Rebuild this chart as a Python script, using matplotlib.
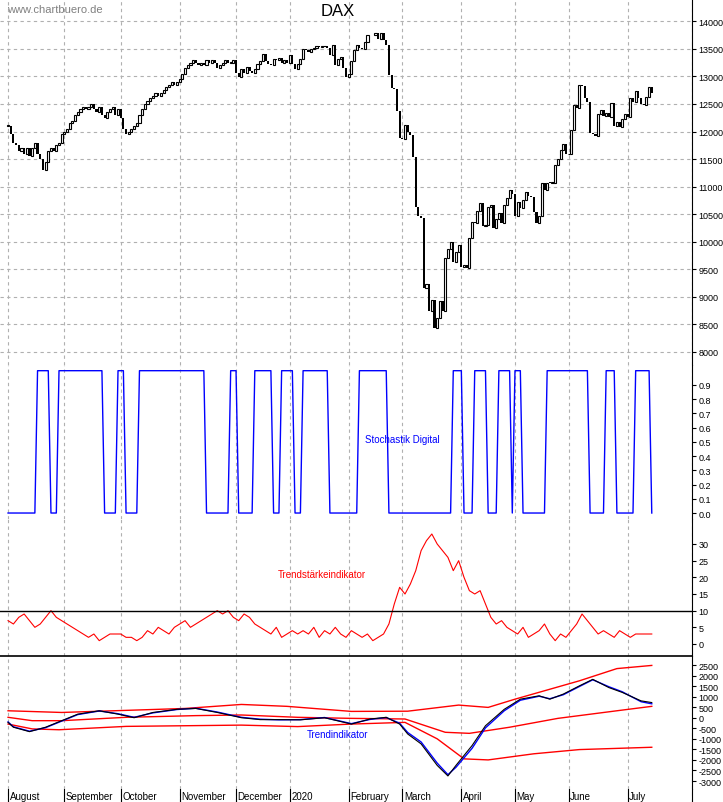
import numpy as np
import matplotlib.pyplot as plt

plt.rcParams['font.family'] = ['Liberation Sans Narrow', 'Liberation Sans', 'DejaVu Sans']
plt.rcParams['axes.unicode_minus'] = False

# DAX daily closes, one list per month (Aug 2019 - Jul 2020)
aug = [12100, 11950, 11800, 11750, 11650, 11700, 11600, 11700, 11550, 11700, 11800,
       11600, 11500, 11300, 11450, 11650, 11700, 11650, 11750, 11800, 11950]
sep = [12000, 12050, 12150, 12200, 12300, 12350, 12400, 12450, 12400, 12450, 12500,
       12400, 12350, 12450, 12300, 12250, 12350, 12400, 12450, 12300, 12400]
okt = [12250, 12050, 11950, 12000, 12050, 12100, 12150, 12300, 12400, 12500, 12550,
       12600, 12650, 12700, 12650, 12700, 12750, 12800, 12850, 12900, 12850, 12900]
nov = [12950, 13050, 13150, 13200, 13250, 13300, 13250, 13200, 13250, 13200, 13300,
       13250, 13300, 13250, 13150, 13200, 13250, 13300, 13250, 13250, 13300]
dez = [13065, 12989, 13140, 13055, 13166, 13105, 13071, 13141, 13221, 13283, 13408,
       13287, 13222, 13212, 13319, 13300, 13337, 13249, 13300, 13250]
jan = [13385, 13219, 13127, 13227, 13320, 13495, 13483, 13450, 13500, 13520, 13550,
       13526, 13548, 13555, 13515, 13388, 13577, 13204, 13324, 13345, 13157, 12982]
feb = [13045, 13281, 13478, 13575, 13513, 13494, 13627, 13749, 13745, 13744, 13783,
       13681, 13789, 13664, 13579, 13035, 12790, 12775, 12367, 11890]
mar = [11857, 12127, 11986, 11944, 11541, 10625, 10475, 10438, 9161, 9232, 8742,
       8939, 8442, 8610, 8929, 8741, 9701, 9874, 10000, 9633, 9815, 9936]
apr = [9544, 9571, 9525, 10075, 10356, 10333, 10564, 10697, 10280, 10301, 10626,
       10676, 10250, 10415, 10514, 10336, 10659, 10796, 10945, 10862]
mai = [10467, 10730, 10606, 10760, 10904, 10825, 10820, 10542, 10338, 10465, 11058,
       10939, 11075, 11066, 11074, 11391, 11505, 11657, 11781, 11587]
jun = [11587, 12021, 12487, 12431, 12848, 12820, 12617, 12530, 11970, 11949, 11911,
       12316, 12382, 12281, 12331, 12263, 12524, 12093, 12178, 12089, 12232, 12311]
jul = [12261, 12608, 12528, 12734, 12616, 12495, 12489, 12633, 12800, 12697]
months = [aug, sep, okt, nov, dez, jan, feb, mar, apr, mai, jun, jul]
month_labels = ['August', 'September', 'October', 'November', 'December', '2020',
                'February', 'March', 'April', 'May', 'June', 'July']

# Stochastik Digital: day ranges where the signal is high
stoch_high = [(11, 15), (19, 35), (41, 43), (49, 73), (83, 85), (92, 98), (102, 106),
              (110, 119), (131, 141), (166, 169), (174, 178), (183, 187), (189, 191),
              (201, 216), (223, 226), (234, 239)]

# Trendstaerkeindikator (every 2nd trading day)
ts_vals = [7, 6, 8, 9, 7, 5, 6, 8, 10, 8, 7, 6, 5,
           4, 3, 2, 3, 1, 2, 3, 3, 3, 2, 2, 1,
           2, 4, 3, 5, 4, 3, 5, 6, 7, 5, 6,
           7, 8, 9, 10, 9, 10, 8, 7, 9, 8,
           6, 5, 4, 3, 5, 2, 3, 4, 3,
           4, 3, 5, 2, 4, 3, 5, 3,
           2, 4, 3, 2, 3, 1, 2, 3, 6, 12, 17,
           15, 18, 22, 28, 31, 33, 30, 28, 26, 22, 25,
           20, 16, 15, 16, 12, 8, 6, 7, 5,
           4, 3, 5, 2, 3, 4, 6, 3, 1, 3, 2,
           4, 6, 9, 7, 5, 3, 4, 3, 2, 4,
           3, 2, 3, 3, 3, 3]

# Trendindikator
tr_days = [0, 2, 8, 14, 20, 26, 34, 41, 47, 54, 63, 70, 78, 87, 94, 101, 109, 118, 128,
           135, 141, 146, 149, 154, 160, 164, 167, 173, 178, 185, 191, 198, 202, 207,
           213, 218, 224, 229, 236, 240]
tr_black = [-220, -450, -660, -450, -140, 170, 330, 170, 0, 250, 400, 440, 250, 0, -90,
            -90, -100, 0, -300, -60, 20, -300, -770, -1240, -2260, -2760, -2260, -1320,
            -380, 400, 880, 1040, 880, 1120, 1510, 1820, 1430, 1200, 800, 720]
tr_blue = [-200, -430, -640, -470, -160, 150, 320, 190, 20, 230, 390, 450, 270, 20, -70,
           -100, -90, 10, -280, -80, 10, -260, -700, -1150, -2150, -2700, -2350, -1450,
           -480, 330, 830, 1020, 900, 1090, 1480, 1800, 1470, 1230, 760, 660]
up_days = [0, 20, 66, 87, 104, 128, 149, 168, 179, 189, 213, 227, 240]
up_vals = [330, 250, 440, 630, 540, 300, 310, 600, 490, 880, 1750, 2330, 2480]
mid_days = [0, 9, 20, 44, 70, 87, 108, 128, 148, 163, 172, 187, 205, 227, 240]
mid_vals = [20, -140, -140, 20, 100, 130, 20, -30, -60, -690, -740, -450, -30, 330, 540]
lo_days = [0, 9, 19, 44, 87, 108, 128, 148, 160, 170, 179, 196, 213, 240]
lo_vals = [-300, -530, -570, -410, -350, -420, -300, -220, -1000, -1950, -2000, -1710,
           -1510, -1400]

closes = np.array([c for m in months for c in m], dtype=float)
opens = np.concatenate([[closes[0]], closes[:-1]])
days = np.arange(len(closes))
month_start = np.cumsum([0] + [len(m) for m in months[:-1]])

W, H = 723, 803
fig = plt.figure(figsize=(W / 100, H / 100), dpi=100)
L, R = 0.0, 692 / W


def panel(top, bottom):
    return fig.add_axes([L, 1 - bottom / H, R - L, (bottom - top) / H])


ax1 = panel(0, 366)
ax2 = panel(366, 520)
ax3 = panel(520, 657)
ax4 = panel(657, 790)
ax5 = panel(790, 803)
XL = (-3, 255)

for ax in (ax1, ax2, ax3, ax4, ax5):
    ax.set_xlim(XL)
    ax.yaxis.tick_right()
    ax.tick_params(axis='y', labelsize=6.5, length=3, pad=1.5)
    ax.set_xticks([])
    for s in ('left', 'top', 'bottom'):
        ax.spines[s].set_visible(False)
    for d in month_start:
        ax.axvline(d, color='#b0b0b0', ls=(0, (3, 3)), lw=0.8, zorder=0)
    ax.axvline(XL[1], color='#b0b0b0', ls=(0, (3, 3)), lw=0.8, zorder=0)

# candles
up = closes >= opens
bot = np.minimum(opens, closes)
hgt = np.maximum(np.abs(closes - opens), 12)
ax1.bar(days[up], hgt[up], bottom=bot[up], width=0.8, facecolor='white',
        edgecolor='black', lw=0.8)
ax1.bar(days[~up], hgt[~up], bottom=bot[~up], width=0.8, color='black')
ax1.set_ylim(7764, 14405)
ax1.set_yticks(np.arange(8000, 14001, 500))
ax1.grid(axis='y', color='#b0b0b0', ls=(0, (3, 3)), lw=0.8)
ax1.set_axisbelow(True)
ax1.text(338 / 692, 1 - 12 / 366, 'DAX', transform=ax1.transAxes, ha='center',
         va='center', fontsize=12)
ax1.text(0.01, 0.985, 'www.chartbuero.de', transform=ax1.transAxes, color='gray',
         fontsize=8, va='top')

# stochastik digital
st = np.zeros(len(closes))
for a, b in stoch_high:
    st[a:b + 1] = 1.0
ax2.plot(days, st, color='blue', lw=1)
ax2.set_ylim(-0.042, 1.04)
ax2.set_yticks(np.round(np.arange(0, 1.0, 0.1), 1))
ax2.set_yticklabels([f'{v:.1f}' for v in np.arange(0, 1.0, 0.1)])
ax2.text(147, 0.5, 'Stochastik Digital', color='blue', fontsize=7, ha='center')

# trend strength
ax3.plot(np.arange(len(ts_vals)) * 2, ts_vals, color='red', lw=0.8)
ax3.axhline(10, color='black', lw=1)
ax3.set_ylim(-3.6, 37.5)
ax3.set_yticks(np.arange(0, 31, 5))
ax3.text(117, 20, 'Trendstärkeindikator', color='red', fontsize=7, ha='center')

# trend indicator
ax4.spines['top'].set_visible(True)
ax4.spines['top'].set_linewidth(1.2)
ax4.plot(up_days, up_vals, color='red', lw=1)
ax4.plot(mid_days, mid_vals, color='red', lw=1)
ax4.plot(lo_days, lo_vals, color='red', lw=1)
ax4.plot(tr_days, tr_blue, color='blue', lw=1)
ax4.plot(tr_days, tr_black, color='black', lw=0.8)
ax4.set_ylim(-3379, 2927)
ax4.set_yticks(np.arange(-3000, 2501, 500))
ax4.text(123, -900, 'Trendindikator', color='blue', fontsize=7, ha='center')

# date strip
ax5.set_yticks([])
ax5.set_ylim(0, 1)
for d, lab in zip(month_start, month_labels):
    ax5.axvline(d, color='black', lw=0.8)
    ax5.text(d + 0.6, 0.45, lab, fontsize=7, va='center', ha='left')

fig.savefig('out.png', dpi=100)
